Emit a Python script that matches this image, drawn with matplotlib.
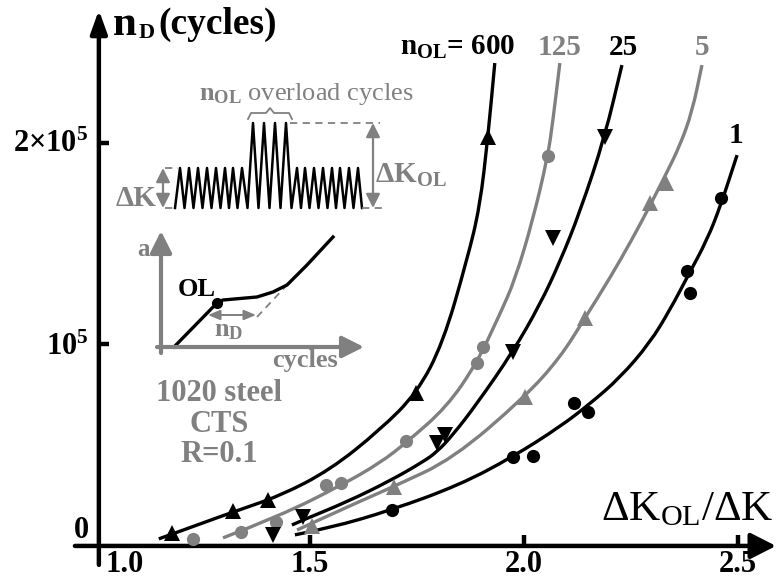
import matplotlib
matplotlib.use("Agg")
import matplotlib.pyplot as plt
from matplotlib.path import Path
from matplotlib.patches import PathPatch

plt.rcParams["font.family"] = ["Liberation Serif", "DejaVu Serif"]
plt.rcParams["font.weight"] = "bold"
plt.rcParams["mathtext.fontset"] = "custom"
plt.rcParams["mathtext.rm"] = "Liberation Serif:normal"
plt.rcParams["mathtext.bf"] = "Liberation Serif:bold"
plt.rcParams["mathtext.it"] = "Liberation Serif:italic:normal"

GRAY = "#808080"

# measured points: overload ratio dK_OL/dK vs delay cycles n_D
x_600 = [1.177, 1.321, 1.403, 1.749, 1.917]
y_600 = [6300, 17500, 22800, 75800, 203100]
x_125 = [1.226, 1.340, 1.421, 1.537, 1.572, 1.724, 1.891, 1.905, 2.057]
y_125 = [3300, 7100, 12100, 30300, 31400, 52300, 90700, 98900, 193500]
x_25 = [1.413, 1.483, 1.796, 1.815, 1.975, 2.068, 2.189]
y_25 = [5500, 14500, 51000, 55100, 96400, 152700, 203100]
x_5 = [1.506, 1.696, 2.002, 2.143, 2.294, 2.332]
y_5 = [9900, 29400, 74100, 113000, 170400, 180000]
x_1 = [1.693, 1.975, 2.022, 2.117, 2.150, 2.382, 2.389, 2.460]
y_1 = [17900, 44300, 44700, 70800, 66400, 136600, 125700, 172600]

# fitted curves
cx_600 = [1.147, 1.320, 1.430, 1.547, 1.664, 1.750, 1.811, 1.867, 1.897, 1.916, 1.932]
cy_600 = [3500, 16900, 24800, 37700, 57600, 75900, 100700, 141900, 168200, 203000, 239700]
cx_125 = [1.297, 1.430, 1.575, 1.664, 1.727, 1.820, 1.890, 1.944, 1.979, 2.021, 2.056, 2.068, 2.084]
cy_125 = [4000, 14900, 30300, 41200, 51600, 69000, 90800, 115100, 132000, 161800, 193500, 211400, 239700]
cx_25 = [1.458, 1.484, 1.586, 1.687, 1.764, 1.797, 1.834, 1.890, 1.974, 2.037, 2.084, 2.131, 2.189, 2.229]
cy_25 = [10400, 12900, 21800, 32300, 41700, 46700, 55100, 70500, 96300, 119600, 140900, 165800, 203000, 238700]
cx_5 = [1.470, 1.547, 1.624, 1.699, 1.834, 2.002, 2.084, 2.143, 2.201, 2.252, 2.294, 2.332, 2.364, 2.393, 2.416]
cy_5 = [7900, 15400, 22800, 29800, 43200, 73900, 93300, 113200, 133000, 151900, 168700, 184600, 198500, 215400, 238700]
cx_1 = [1.465, 1.547, 1.692, 1.850, 1.974, 2.084, 2.154, 2.224, 2.294, 2.341, 2.383, 2.428, 2.460, 2.498]
cy_1 = [5500, 8900, 17900, 30300, 44200, 59100, 70500, 83400, 100700, 117100, 134000, 151900, 169200, 194000]

xticks = [1.5, 2.0, 2.5]
xtick_labels = ["1.0", "1.5", "2.0", "2.5"]
xlabel_pos = [1.023, 1.5, 2.0, 2.5]
yticks = [100000, 200000]
ytick_labels = ["0", r"$\mathbf{10^5}$", r"$\mathbf{2{\times}10^5}$"]
ylabel_pos = [4000, 95000, 195500]

series = [
    (x_600, y_600, cx_600, cy_600, "black", "^", 11),
    (x_125, y_125, cx_125, cy_125, GRAY, "o", 9.5),
    (x_25, y_25, cx_25, cy_25, "black", "v", 11),
    (x_5, y_5, cx_5, cy_5, GRAY, "^", 11),
    (x_1, y_1, cx_1, cy_1, "black", "o", 9.5),
]


def smooth_curve(xs, ys):
    # quadratic bezier through the midpoints of the read points
    verts = [(xs[0], ys[0])]
    codes = [Path.MOVETO]
    for i in range(1, len(xs) - 1):
        verts += [(xs[i], ys[i]), ((xs[i] + xs[i + 1]) / 2, (ys[i] + ys[i + 1]) / 2)]
        codes += [Path.CURVE3, Path.CURVE3]
    verts.append((xs[-1], ys[-1]))
    codes.append(Path.LINETO)
    return Path(verts, codes)


fig = plt.figure(figsize=(7.76, 5.83), dpi=100)
ax = fig.add_axes([0, 0, 1, 1])
ax.set_xlim(0.776, 2.589)
ax.set_ylim(-18400, 271000)
ax.axis("off")

for xs, ys, cxs, cys, col, mk, ms in series:
    ax.add_patch(PathPatch(smooth_curve(cxs, cys), facecolor="none", edgecolor=col,
                           lw=2.4, zorder=3))
    ax.plot(xs, ys, linestyle="none", marker=mk, ms=ms, color=col,
            markeredgewidth=0, zorder=4)

# axes with arrow heads
ax.annotate("", xy=(2.589, 0), xytext=(0.951, 0),
            arrowprops=dict(arrowstyle="-|>,head_length=0.55,head_width=0.28", lw=3.2,
                            color="black", mutation_scale=28, shrinkA=0, shrinkB=0))
ax.annotate("", xy=(1.007, 266000), xytext=(1.007, -9400),
            arrowprops=dict(arrowstyle="-|>,head_length=0.5,head_width=0.18", lw=3.2,
                            color="black", mutation_scale=28, shrinkA=0, shrinkB=0))
ax.vlines(xticks, 0, 5500, color="black", lw=3.2)
ax.hlines(yticks, 1.007, 1.03, color="black", lw=3.2)

for pos, lab in zip(xlabel_pos, xtick_labels):
    ax.text(pos, -9400, lab, fontsize=22, ha="left" if lab == "1.0" else "center",
            va="center")
for pos, lab in zip(ylabel_pos, ytick_labels):
    ax.text(0.983, pos, lab, fontsize=22, ha="right", va="baseline")

# overlay in pixel units for annotations and insets
ov = fig.add_axes([0, 0, 1, 1])
ov.set_xlim(0, 776)
ov.set_ylim(583, 0)
ov.axis("off")
ov.patch.set_alpha(0)

ov.text(113, 35, "n", fontsize=31, ha="left", va="baseline")
ov.text(139, 38, "D", fontsize=16, ha="left", va="baseline")
ov.text(158, 34, "(cycles)", fontsize=27, ha="left", va="baseline")
ov.text(773, 520, r"$\mathrm{ΔK_{OL}/ΔK}$", fontsize=31, ha="right", va="baseline")

ov.text(515, 55, r"$\mathbf{n_{OL}}$= 600", fontsize=21, ha="right", va="baseline")
ov.text(560, 55, "125", fontsize=21, ha="center", va="baseline", color=GRAY)
ov.text(623, 55, "25", fontsize=21, ha="center", va="baseline")
ov.text(702, 55, "5", fontsize=21, ha="center", va="baseline", color=GRAY)
ov.text(736, 143, "1", fontsize=21, ha="center", va="baseline")

# loading sequence sketch
small_left_peaks = [180, 189, 198, 207, 216, 225, 233, 242]
overload_peaks = [253, 264, 275, 286]
small_right_peaks = [297, 305, 314, 323, 332, 340, 349, 358]
low, high, top = 208, 168, 123
wx, wy = [175], [low]
peaks = [(p, high) for p in small_left_peaks] + [(p, top) for p in overload_peaks] \
    + [(p, high) for p in small_right_peaks]
for i, (px, py) in enumerate(peaks):
    wx.append(px)
    wy.append(py)
    if i + 1 < len(peaks):
        wx.append((px + peaks[i + 1][0]) / 2)
        wy.append(low)
wx.append(362)
wy.append(low)
ov.plot(wx, wy, color="black", lw=1.8)

dash = dict(color=GRAY, lw=1.3, ls=(0, (4, 3)))
ov.plot([165, 178], [high, high], **dash)
ov.plot([165, 176], [low, low], **dash)
ov.plot([290, 380], [top, top], **dash)
ov.plot([362, 382], [low, low], **dash)
darrow = dict(arrowstyle="<|-|>,head_length=0.6,head_width=0.3", color=GRAY,
              lw=1.6, mutation_scale=14, shrinkA=0, shrinkB=0)
ov.annotate("", xy=(163, high), xytext=(163, low), arrowprops=darrow)
ov.annotate("", xy=(373, top), xytext=(373, low), arrowprops=darrow)
ov.plot([248, 251, 266, 270, 274, 289, 292], [119, 113, 113, 108, 113, 113, 119],
        color=GRAY, lw=1.3)
ov.text(199, 100, r"$\mathbf{n_{OL}}$ overload cycles", fontsize=19,
        fontweight="normal", color=GRAY, ha="left", va="baseline")
ov.text(156, 206, "ΔK", fontsize=21, color=GRAY, ha="right", va="baseline")
ov.text(375, 183, r"$\mathbf{ΔK_{OL}}$", fontsize=21, color=GRAY, ha="left",
        va="baseline")

# crack length sketch
garrow = dict(arrowstyle="-|>,head_length=0.6,head_width=0.3", color=GRAY,
              lw=3, mutation_scale=22, shrinkA=0, shrinkB=0)
ov.annotate("", xy=(161, 231), xytext=(161, 353), arrowprops=garrow)
ov.annotate("", xy=(364, 347), xytext=(157, 347), arrowprops=garrow)
ov.plot([257, 287], [317, 285], **dash)
ov.plot([174, 217, 223, 257, 273, 287, 307, 333],
        [347, 303, 300, 297, 292, 285, 265, 237], color="black", lw=2.4)
ov.plot([217], [303], marker="o", ms=7, color="black")
ov.annotate("", xy=(208, 315), xytext=(256, 315),
            arrowprops=dict(arrowstyle="<|-|>,head_length=0.6,head_width=0.25",
                            color=GRAY, lw=1.4, mutation_scale=12,
                            shrinkA=0, shrinkB=0))
ov.text(144, 250, "a", fontsize=18, color=GRAY, ha="center", va="center")
ov.text(197, 289, "OL", fontsize=19, color="black", ha="center", va="center")
ov.text(229, 331, r"$\mathbf{n_D}$", fontsize=19, color=GRAY, ha="center",
        va="center")
ov.text(305, 360, "cycles", fontsize=19, color=GRAY, ha="center", va="center")
# three lines of one block so the spacing stays tight
ov.text(219, 424, "1020 steel\nCTS\nR=0.1", fontsize=22, color=GRAY, ha="center",
        va="center", multialignment="center", linespacing=1.05)

fig.savefig("out.png", dpi=100)
